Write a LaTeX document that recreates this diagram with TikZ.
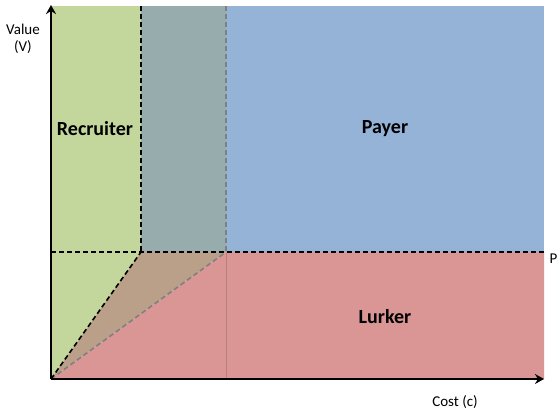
\documentclass[tikz,border=0pt]{standalone}
\usepackage{fontspec}
\setmainfont{Carlito}
\usetikzlibrary{arrows.meta}
\definecolor{recgreen}{RGB}{195,214,155}
\definecolor{payblue}{RGB}{149,179,215}
\definecolor{lurkred}{RGB}{217,150,148}
\definecolor{mixgrey}{RGB}{151,172,172}
\definecolor{mixbrown}{RGB}{186,160,136}
\definecolor{edgegrey}{RGB}{128,128,128}
\tikzset{
  zone/.style={font=\bfseries\fontsize{20}{24}\selectfont},
  axislabel/.style={font=\fontsize{15}{17}\selectfont, align=center},
  blackdash/.style={black, line width=1.6pt, dash pattern=on 5pt off 3pt},
  greydash/.style={edgegrey, line width=1.6pt, dash pattern=on 5pt off 3pt}
}
\begin{document}
\begin{tikzpicture}[x=1pt,y=-1pt]
  \useasboundingbox (0,0) rectangle (557,410);
  \clip (0,0) rectangle (557,410);
  % Corner points
  \coordinate (O) at (51,379);
  \coordinate (Vtop) at (51,5);
  \coordinate (Cend) at (544,379);
  \coordinate (R1) at (141,252);
  \coordinate (R2) at (226,252);
  \coordinate (T1) at (141,6);
  \coordinate (T2) at (226,6);
  \coordinate (E1) at (544,6);
  \coordinate (E2) at (544,252);
  \coordinate (L0) at (51,252);
  % Fill the regions
  \fill[recgreen] (O) -- (51,6) -- (T1) -- (R1) -- cycle;
  \fill[mixgrey] (T1) -- (T2) -- (R2) -- (R1) -- cycle;
  \fill[payblue] (T2) -- (E1) -- (E2) -- (R2) -- cycle;
  \fill[mixbrown] (O) -- (R1) -- (R2) -- cycle;
  \fill[lurkred] (O) -- (R2) -- (E2) -- (544,379) -- cycle;
  % Faint edge
  \draw[lurkred!85!black, line width=0.6pt] (R2) -- (226,379);
  % Boundaries
  \draw[greydash] (T2) -- (R2);
  \draw[greydash] (O) -- (R2);
  \draw[blackdash] (T1) -- (R1);
  \draw[blackdash] (O) -- (R1);
  \draw[blackdash] (L0) -- (E2);
  % Axes
  \draw[line width=2pt, -{Stealth[length=9pt,width=10pt]}] (O) -- (Vtop);
  \draw[line width=2pt, -{Stealth[length=9pt,width=10pt]}] (O) -- (Cend);
  % Labels
  \node[axislabel] (value) at (23,39) {Value\\(V)};
  \node[axislabel] (cost) at (455,402) {Cost (c)};
  \node[axislabel, anchor=west] (p) at (546,259) {P};
  \node[zone] (recruiter) at (95,129) {Recruiter};
  \node[zone] (payer) at (385,129) {Payer};
  \node[zone] (lurker) at (385,317) {Lurker};
\end{tikzpicture}
\end{document}
